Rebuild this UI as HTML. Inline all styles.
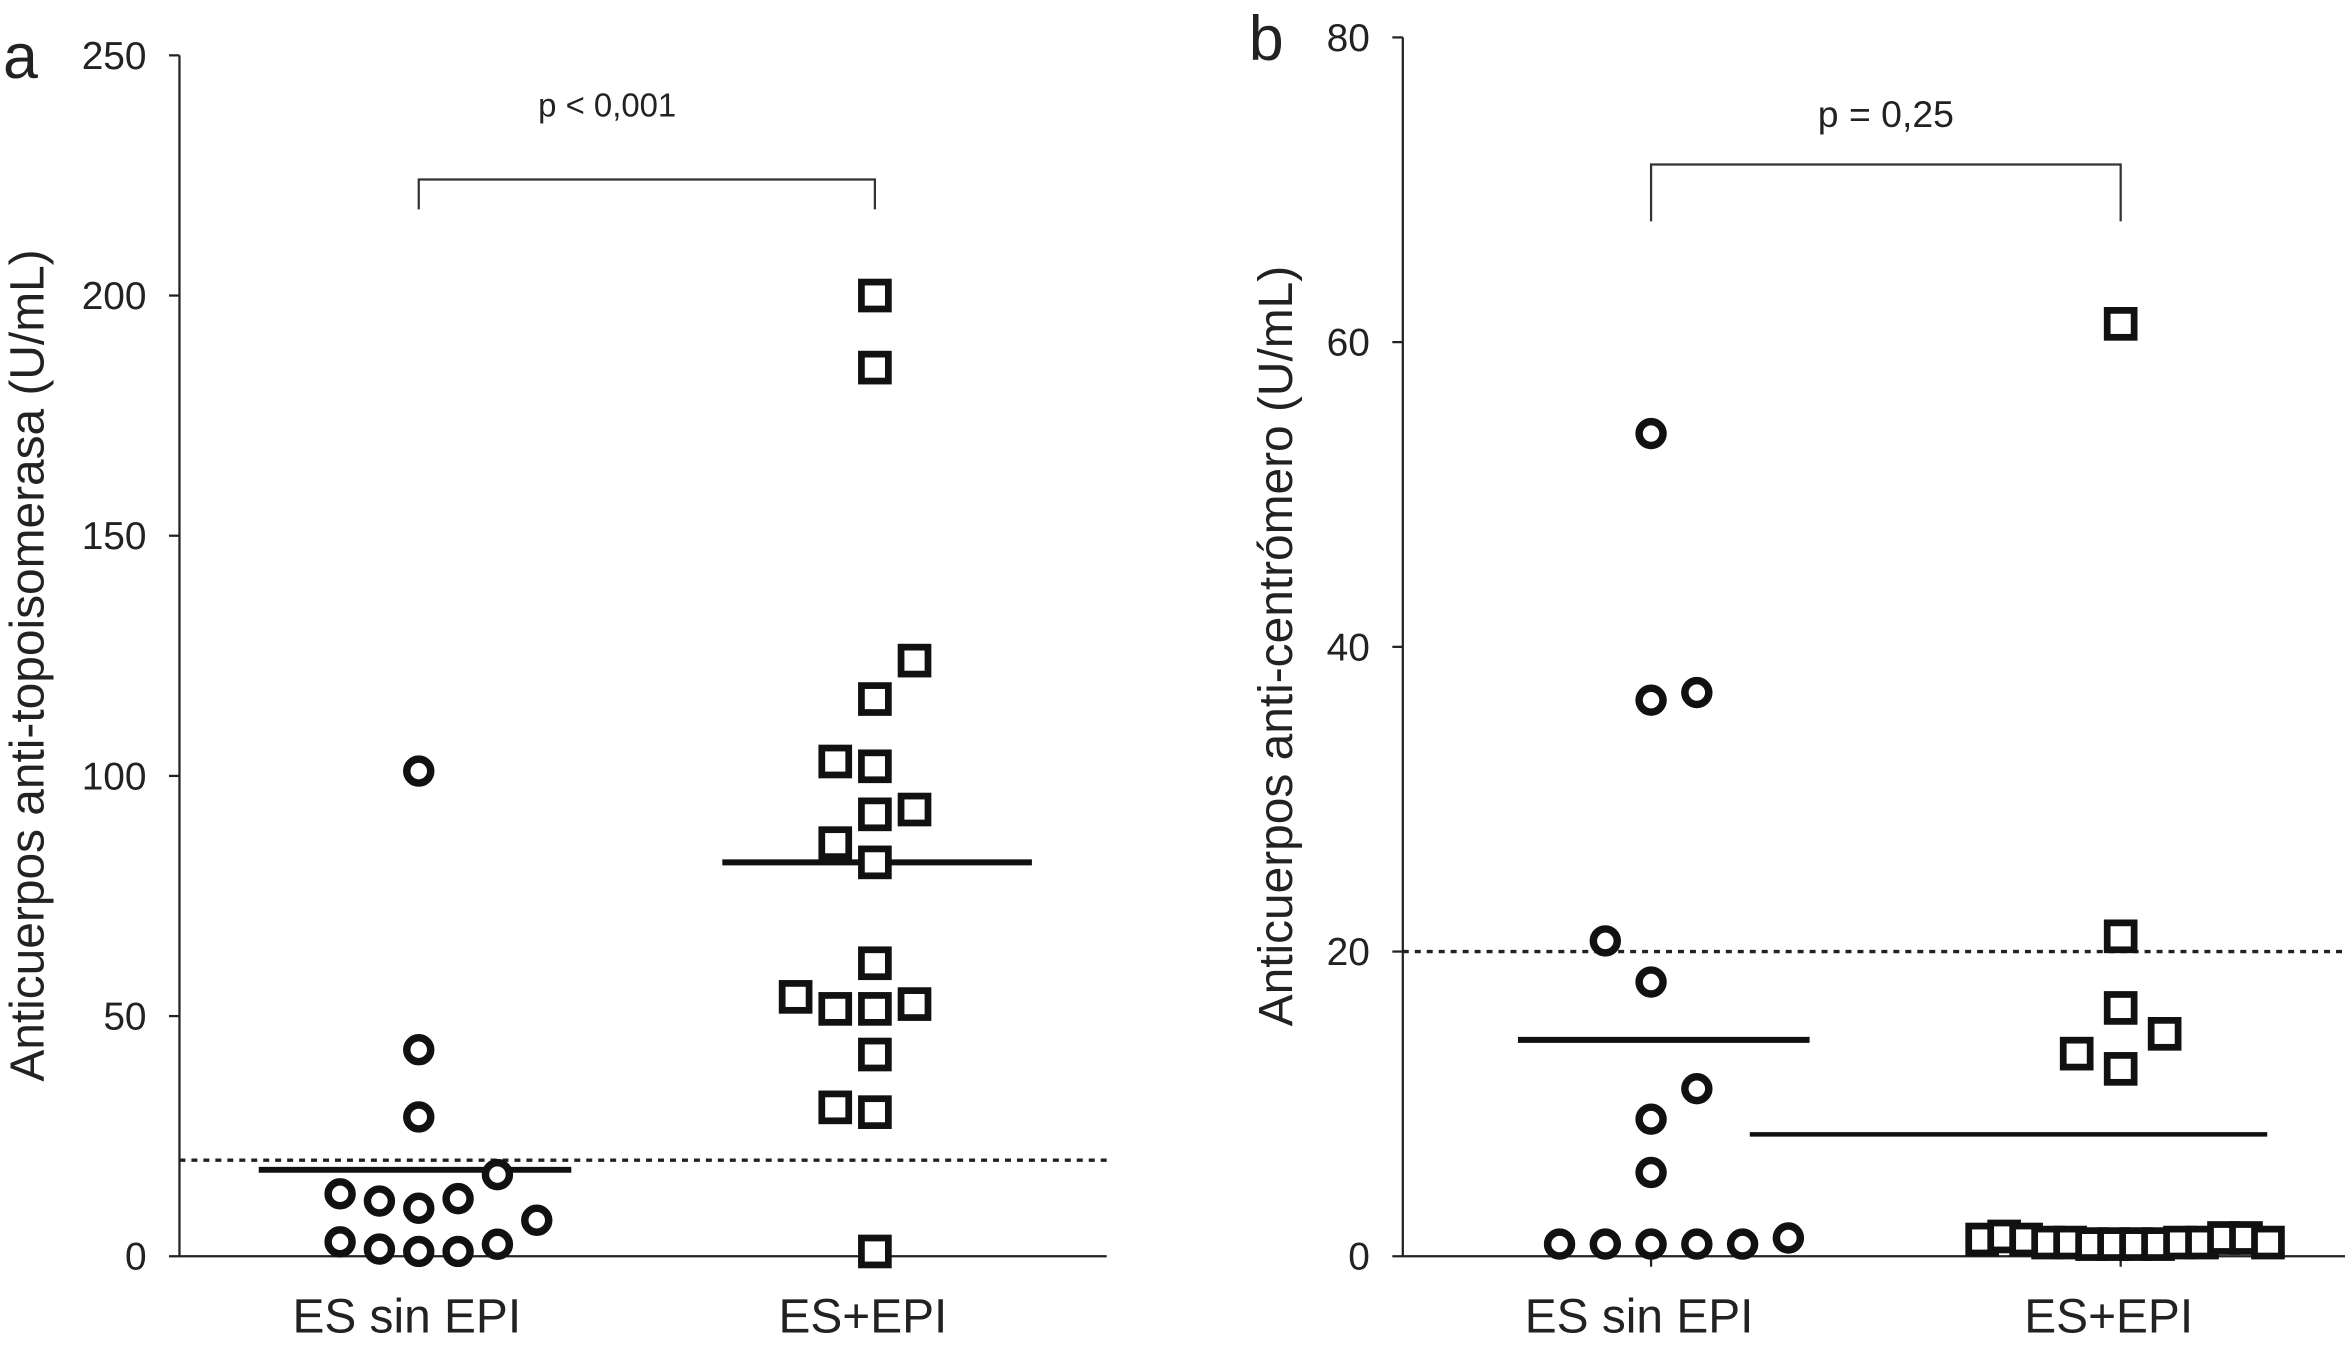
<!DOCTYPE html>
<html><head><meta charset="utf-8"><style>
html,body{margin:0;padding:0;background:#fff;}
svg{display:block;font-family:"Liberation Sans",Arial,sans-serif;}
</style></head><body>
<svg id="chart" width="2345" height="1355" viewBox="0 0 1568 906" xmlns="http://www.w3.org/2000/svg">
<g id="pa"></g>
<g id="pb"></g>
</svg>
<script>
// Panel a data
const aCats = ["ES sin EPI", "ES+EPI"];
const aTicks = [0, 50, 100, 150, 200, 250];
const aG1Vals = [101, 43, 29, 17, 13, 11.5, 10, 12, 7.5, 3, 1.5, 1, 1, 2.5];
const aG1Cols = [0, 0, 0, 2, -2, -1, 0, 1, 3, -2, -1, 0, 1, 2];
const aG2Vals = [200, 185, 124, 116, 103, 102, 92, 93, 86, 82, 61, 54, 51.5, 51.5, 52.5, 42, 31, 30, 1];
const aG2Cols = [0, 0, 1, 0, -1, 0, 0, 1, -1, 0, 0, -2, -1, 0, 1, 0, -1, 0, 0];
const aMedians = [18, 82];
const aCutoff = 20;
const aP = "p < 0,001";
// Panel b data
const bCats = ["ES sin EPI", "ES+EPI"];
const bTicks = [0, 20, 40, 60, 80];
const bG1Vals = [54, 36.5, 37, 20.7, 18, 11, 9, 5.5, 0.8, 0.8, 0.8, 0.8, 0.8, 1.2];
const bG1Cols = [0, 0, 1, -1, 0, 1, 0, 0, -2, -1, 0, 1, 2, 3];
const bG2Vals = [61.2, 21, 16.3, 14.6, 13.3, 12.3, 1.1, 1.3, 1.1, 0.9, 0.9, 0.8, 0.8, 0.8, 0.8, 0.9, 0.9, 1.2, 1.2, 0.9];
const bG2Cols = [0, 0, 0, 2, -2, 0, -6.3, -5.3, -4.3, -3.3, -2.3, -1.3, -0.3, 0.7, 1.7, 2.7, 3.7, 4.7, 5.7, 6.7];
const bMedians = [14.2, 8];
const bCutoff = 20;
const bP = "p = 0,25";

const NS = "http://www.w3.org/2000/svg";
function mk(parent, tag, attrs, text) {
  const e = document.createElementNS(NS, tag);
  for (const k in attrs) e.setAttribute(k, attrs[k]);
  if (text !== undefined) e.textContent = text;
  parent.appendChild(e);
  return e;
}

function panel(g, cfg) {
  const y = v => cfg.y0 - (v - cfg.min) / (cfg.max - cfg.min) * (cfg.y0 - cfg.yTop);
  let e = mk(g, "line", {x1: cfg.ax, x2: cfg.ax, y1: cfg.yTop, y2: cfg.y0, stroke: "#222", "stroke-width": 1.5});
  
  
  e = mk(g, "line", {x1: cfg.ax, x2: cfg.axEnd, y1: cfg.y0, y2: cfg.y0, stroke: "#222", "stroke-width": 1.5});
  
  
  cfg.ticks.forEach(t => {
    const l = mk(g, "line", {x1: cfg.ax - 7, x2: cfg.ax, y1: y(t), y2: y(t), stroke: "#222", "stroke-width": 1.5});
    
    
    const tx = mk(g, "text", {x: cfg.ax - 22, y: y(t) + 9, "text-anchor": "end", "font-size": 26, fill: "#222"}, String(t));
    
    
  });
  cfg.cats.forEach((c, i) => {
    const l = mk(g, "line", {x1: cfg.cx[i], x2: cfg.cx[i], y1: cfg.y0, y2: cfg.y0 + 7, stroke: "#222", "stroke-width": 1.5});
    
    
    const tx = mk(g, "text", {x: cfg.cx[i] - 8, y: cfg.y0 + 51, "text-anchor": "middle", "font-size": 32, fill: "#222"}, c);
    
    
  });
  e = mk(g, "line", {x1: cfg.ax, x2: cfg.axEnd, y1: y(cfg.cutoff), y2: y(cfg.cutoff), stroke: "#222", "stroke-width": 2.2, "stroke-dasharray": "4 4"});
  
  
  e = mk(g, "path", {d: `M${cfg.cx[0]} ${cfg.brY + cfg.brDrop} V${cfg.brY} H${cfg.cx[1]} V${cfg.brY + cfg.brDrop}`, fill: "none", stroke: "#333", "stroke-width": 1.5});
  
  
  e = mk(g, "text", {x: cfg.pX, y: cfg.pY, "text-anchor": "middle", "font-size": cfg.pSize, fill: "#222"}, cfg.p);
  
  
  e = mk(g, "text", {x: 0, y: 0, transform: `translate(${cfg.titleX},${cfg.titleY}) rotate(-90)`, "text-anchor": "middle", "font-size": 32, fill: "#222"}, cfg.title);
  
  
  e = mk(g, "text", {x: cfg.letterX, y: cfg.letterY, "font-size": 42, fill: "#222"}, cfg.letter);
  
  
  cfg.medians.forEach((m, i) => {
    const l = mk(g, "line", {x1: cfg.medX[i][0], x2: cfg.medX[i][1], y1: y(m), y2: y(m), stroke: "#111", "stroke-width": cfg.medW[i]});
    
    
  });
  cfg.g1Vals.forEach((v, i) => {
    const c = mk(g, "circle", {cx: cfg.cx[0] + cfg.g1Cols[i] * cfg.sp1, cy: y(v), r: 8, fill: "#fff", stroke: "#111", "stroke-width": 5});
    
    
  });
  cfg.g2Vals.forEach((v, i) => {
    const px = cfg.cx[1] + cfg.g2Cols[i] * cfg.sp2;
    const r = mk(g, "rect", {x: px - 9, y: y(v) - 9, width: 18, height: 18, fill: "#fff", stroke: "#111", "stroke-width": 4.5});
    
    
  });
}

panel(document.getElementById("pa"), {
  ax: 120, axEnd: 740, y0: 840, yTop: 37, min: 0, max: 250, ticks: aTicks, cats: aCats, cx: [280, 585],
  cutoff: aCutoff, brY: 120, brDrop: 20, pX: 406, pY: 78, pSize: 22, p: aP, title: "Anticuerpos anti-topoisomerasa (U/mL)",
  titleX: 29, titleY: 445, letter: "a", letterX: 2, letterY: 52, medians: aMedians, medX: [[173, 382], [483, 690]], medW: [4, 4],
  g1Vals: aG1Vals, g1Cols: aG1Cols, g2Vals: aG2Vals, g2Cols: aG2Cols, sp1: 26.3, sp2: 26.5
});
panel(document.getElementById("pb"), {
  ax: 938, axEnd: 1568, y0: 840, yTop: 25, min: 0, max: 80, ticks: bTicks, cats: bCats, cx: [1104, 1418],
  cutoff: bCutoff, brY: 110, brDrop: 38, pX: 1261, pY: 85, pSize: 25, p: bP, title: "Anticuerpos anti-centrómero (U/mL)",
  titleX: 864, titleY: 432, letter: "b", letterX: 835, letterY: 40, medians: bMedians, medX: [[1015, 1210], [1170, 1516]], medW: [4, 3],
  g1Vals: bG1Vals, g1Cols: bG1Cols, g2Vals: bG2Vals, g2Cols: bG2Cols, sp1: 30.6, sp2: 14.7
});
</script>
</body></html>
